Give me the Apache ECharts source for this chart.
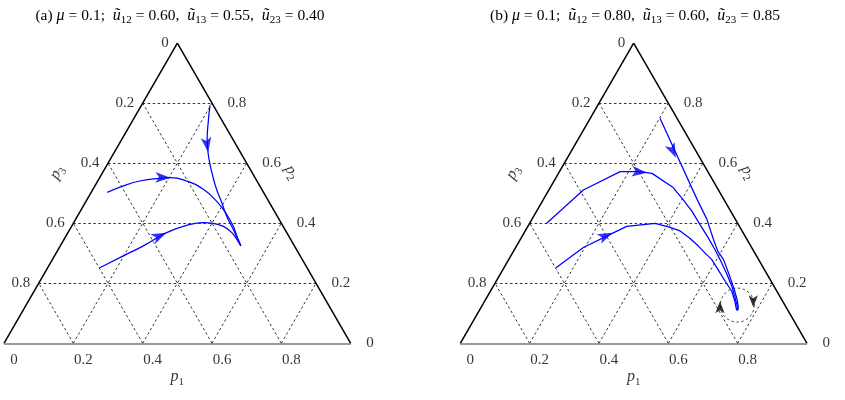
<!DOCTYPE html>
<html>
<head>
<meta charset="utf-8">
<title>Ternary phase portraits</title>
<script src="https://cdn.jsdelivr.net/npm/echarts@6/dist/echarts.min.js"></script>
<style>
  html, body { margin: 0; padding: 0; background: #fff; }
  #chart { width: 845px; height: 400px; }
</style>
</head>
<body>
<div id="chart"></div>
<script>
// triangle of side 1: x runs along the p1 side, y goes up to the top vertex
const H = Math.sqrt(3) / 2

const ticksP1 = ['0', '0.2', '0.4', '0.6', '0.8']
const ticksP3 = ['0', '0.2', '0.4', '0.6', '0.8']
const ticksP2 = ['0.8', '0.6', '0.4', '0.2', '0']
const gridLevels = [0.2, 0.4, 0.6, 0.8]

// panel (a) trajectories
const pathA1 = [[0.594, 0.686], [0.589, 0.637], [0.586, 0.588], [0.591, 0.533], [0.602, 0.483], [0.613, 0.444], [0.628, 0.406], [0.642, 0.367], [0.661, 0.329], [0.683, 0.281]]
const pathA2 = [[0.298, 0.435], [0.344, 0.454], [0.392, 0.468], [0.440, 0.475], [0.479, 0.478], [0.527, 0.468], [0.575, 0.444], [0.613, 0.410], [0.642, 0.372], [0.661, 0.338], [0.672, 0.309], [0.683, 0.281]]
const pathA3 = [[0.275, 0.217], [0.344, 0.252], [0.402, 0.281], [0.469, 0.319], [0.527, 0.340], [0.575, 0.348], [0.604, 0.346], [0.633, 0.337], [0.657, 0.319], [0.671, 0.300], [0.683, 0.281]]
// arrow heads: x, y, direction dx, dy
const arrowsA = [[0.589, 0.551, 0.15, -1], [0.480, 0.477, 1, -0.03], [0.468, 0.319, 1, 0.48]]

// panel (b) trajectories
const pathB1 = [[0.576, 0.649], [0.683, 0.415], [0.711, 0.358], [0.730, 0.300], [0.743, 0.265], [0.759, 0.242], [0.775, 0.199], [0.790, 0.156], [0.798, 0.127], [0.802, 0.104], [0.800, 0.095]]
const pathB2 = [[0.249, 0.346], [0.355, 0.442], [0.461, 0.495], [0.518, 0.495], [0.553, 0.490], [0.614, 0.449], [0.642, 0.415], [0.668, 0.381], [0.691, 0.343], [0.714, 0.306], [0.734, 0.271], [0.749, 0.242], [0.769, 0.199], [0.784, 0.162], [0.792, 0.133], [0.798, 0.110], [0.800, 0.095]]
const pathB3 = [[0.276, 0.218], [0.355, 0.276], [0.422, 0.309], [0.480, 0.337], [0.562, 0.346], [0.605, 0.334], [0.634, 0.324], [0.662, 0.303], [0.686, 0.281], [0.709, 0.257], [0.725, 0.242], [0.743, 0.213], [0.766, 0.176], [0.783, 0.150], [0.792, 0.121], [0.797, 0.095]]
const arrowsB = [[0.622, 0.535, 0.457, -1], [0.538, 0.492, 1, -0.1], [0.439, 0.319, 1, 0.47]]
const cycleB = [[0.799, 0.110]]
const cycleArrowsB = [[0.749, 0.121, 0, 1], [0.845, 0.104, 0, -1]]

const serif = '"Liberation Serif", "Times New Roman", serif'
const rich = {
  n: { fontFamily: serif, fontSize: 15.5, lineHeight: 20, color: '#000' },
  i: { fontFamily: serif, fontSize: 16, lineHeight: 20, fontStyle: 'italic', color: '#000' },
  s: { fontFamily: serif, fontSize: 11, verticalAlign: 'bottom', color: '#000' },
  e: { fontFamily: serif, fontSize: 15.5, lineHeight: 20, padding: [0, 4, 0, 4], color: '#000' }
}

function title(tag, u12, u13, u23) {
  return '{n|(' + tag + ') }{i|μ}{e|=}{n|0.1;  }' +
    '{i|ũ}{s|12}{e|=}{n|' + u12 + ',  }' +
    '{i|ũ}{s|13}{e|=}{n|' + u13 + ',  }' +
    '{i|ũ}{s|23}{e|=}{n|' + u23 + '}'
}

function gridSegments() {
  const segs = []
  gridLevels.forEach(t => {
    segs.push({ coords: [[t / 2, t * H], [1 - t / 2, t * H]] })
    segs.push({ coords: [[t, 0], [(1 + t) / 2, (1 - t) * H]] })
    segs.push({ coords: [[t, 0], [t / 2, t * H]] })
  })
  return segs
}

function arrowData(list) {
  return list.map(a => ({
    value: [a[0], a[1]],
    symbolRotate: Math.atan2(a[3], a[2]) * 180 / Math.PI - 90
  }))
}

function labelSeries(gi, data, label) {
  return {
    type: 'scatter', xAxisIndex: gi, yAxisIndex: gi, clip: false, silent: true,
    symbolSize: 1, itemStyle: { color: 'rgba(0,0,0,0)' },
    label: Object.assign({ show: true, formatter: '{b}', fontFamily: serif, fontSize: 15, color: '#000' }, label),
    data: data
  }
}

function panel(gi, paths, arrows, smooth) {
  const ax = { xAxisIndex: gi, yAxisIndex: gi }
  const out = []
  out.push({
    type: 'lines', coordinateSystem: 'cartesian2d', ...ax, silent: true, clip: false, z: 1,
    lineStyle: { color: '#333', width: 1, type: [2.5, 2.5], opacity: 1 },
    data: gridSegments()
  })
  out.push({
    type: 'lines', coordinateSystem: 'cartesian2d', ...ax, silent: true, clip: false, z: 2,
    lineStyle: { color: '#000', width: 1.5, opacity: 1 },
    data: [{ coords: [[0, 0], [0.5, H]] }, { coords: [[0.5, H], [1, 0]] }]
  })
  out.push({
    type: 'lines', coordinateSystem: 'cartesian2d', ...ax, silent: true, clip: false, z: 2,
    lineStyle: { color: '#777', width: 1.6, opacity: 1 },
    data: [{ coords: [[0, 0], [1, 0]] }]
  })
  paths.forEach(p => out.push({
    type: 'line', ...ax, data: p, showSymbol: false, smooth: smooth, silent: true, z: 3,
    lineStyle: { color: '#0000ff', width: 1.25 }
  }))
  out.push({
    type: 'scatter', ...ax, silent: true, z: 4, symbol: 'arrow', symbolSize: [8, 15],
    itemStyle: { color: '#0000ff' }, data: arrowData(arrows)
  })
  out.push(labelSeries(gi, ticksP3.map(t => {
    const f = 1 - parseFloat(t)
    return { name: t, value: [f / 2, f * H] }
  }), { position: 'left', distance: 8 }))
  out.push(labelSeries(gi, ticksP2.map(t => {
    const f = parseFloat(t)
    return { name: t, value: [1 - f / 2, f * H] }
  }), { position: 'right', distance: 15 }))
  out.push(labelSeries(gi, ticksP1.map(t => ({ name: t, value: [parseFloat(t), 0] })),
    { position: 'bottom', distance: 9, offset: [10, 0] }))
  out.push(labelSeries(gi, [{ name: 'p1', value: [0.5, -0.098] }],
    { position: 'inside', formatter: '{i|p}{s|1}', rich: rich }))
  out.push(labelSeries(gi, [{ name: 'p3', value: [0.153, 0.493] }],
    { position: 'inside', formatter: '{i|p}{s|3}', rich: rich, rotate: 60 }))
  out.push(labelSeries(gi, [{ name: 'p2', value: [0.83, 0.493] }],
    { position: 'inside', formatter: '{i|p}{s|2}', rich: rich, rotate: -60 }))
  return out
}

const chart = echarts.init(document.getElementById('chart'))

const series = panel(0, [pathA1, pathA2, pathA3], arrowsA, true)
  .concat(panel(1, [pathB1, pathB2, pathB3], arrowsB, false))
series.push({
  type: 'scatter', xAxisIndex: 1, yAxisIndex: 1, silent: true, clip: false, z: 2,
  symbol: 'circle', symbolSize: 34, data: cycleB,
  itemStyle: { color: 'rgba(0,0,0,0)', borderColor: '#000', borderWidth: 0.9, borderType: [2.5, 2.5] }
})
series.push({
  type: 'scatter', xAxisIndex: 1, yAxisIndex: 1, silent: true, z: 4,
  symbol: 'arrow', symbolSize: [7, 12], itemStyle: { color: '#000' },
  data: arrowData(cycleArrowsB)
})

chart.setOption({
  animation: false,
  graphic: [
    { type: 'text', x: 180, y: 16, style: { text: title('a', '0.60', '0.55', '0.40'), rich: rich, align: 'center', verticalAlign: 'middle' } },
    { type: 'text', x: 635, y: 16, style: { text: title('b', '0.80', '0.60', '0.85'), rich: rich, align: 'center', verticalAlign: 'middle' } }
  ],
  grid: [
    { left: 4, top: 43, width: 346.7, height: 300.25 },
    { left: 460.3, top: 43, width: 346.7, height: 300.25 }
  ],
  xAxis: [
    { gridIndex: 0, type: 'value', min: 0, max: 1, show: false },
    { gridIndex: 1, type: 'value', min: 0, max: 1, show: false }
  ],
  yAxis: [
    { gridIndex: 0, type: 'value', min: 0, max: H, show: false },
    { gridIndex: 1, type: 'value', min: 0, max: H, show: false }
  ],
  series: series
})
</script>
</body>
</html>
